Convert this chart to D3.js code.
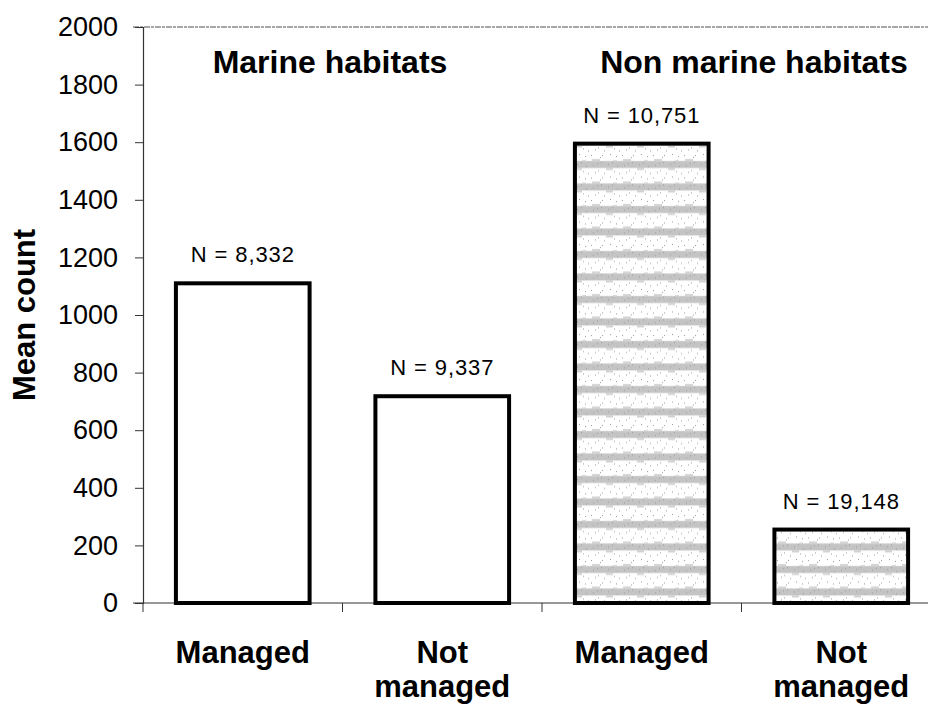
<!DOCTYPE html>
<html>
<head>
<meta charset="utf-8">
<script src="https://cdn.jsdelivr.net/npm/d3@7"></script>
<style>
  body { margin: 0; background: #fff; }
  text { font-family: "Liberation Sans", Arial, sans-serif; fill: #000; }
</style>
</head>
<body>
<div class="graph"><svg></svg></div>
<script>
// data
const categories = ['mm', 'mn', 'nm', 'nn']
const labelLines = [['Managed'], ['Not', 'managed'], ['Managed'], ['Not', 'managed']]
const meanCounts = [1110, 718, 1595, 255]
const sampleSizes = ['N = 8,332', 'N = 9,337', 'N = 10,751', 'N = 19,148']
const marine = [true, true, false, false]
const groupTitles = ['Marine habitats', 'Non marine habitats']
const yTicks = [0, 200, 400, 600, 800, 1000, 1200, 1400, 1600, 1800, 2000]

const width = 928
const height = 705
const plot = { left: 143, right: 941, top: 27, bottom: 603 }

const svg = d3.select('.graph').select('svg')
  .attr('width', width)
  .attr('height', height)

// stippled horizontal band texture for the non marine bars
const defs = svg.append('defs')
const pat = defs.append('pattern')
  .attr('id', 'bands')
  .attr('patternUnits', 'userSpaceOnUse')
  .attr('width', 31)
  .attr('height', 22.5)
  .attr('y', 153)
pat.append('rect').attr('width', 31).attr('height', 22.5).attr('fill', '#fff')
pat.append('rect').attr('y', 8).attr('width', 31).attr('height', 7).attr('fill', '#c4c4c4')
pat.append('rect').attr('x', 3).attr('y', 6).attr('width', 8).attr('height', 2).attr('fill', '#d4d4d4')
pat.append('rect').attr('x', 17).attr('y', 15).attr('width', 7).attr('height', 2).attr('fill', '#d0d0d0')
pat.append('rect').attr('x', 24).attr('y', 7).attr('width', 4).attr('height', 1).attr('fill', '#d8d8d8')
const dots = [[2, 2], [11, 4], [21, 1], [27, 3], [6, 19], [15, 20], [25, 18], [8, 10], [19, 11], [28, 13],
  [13, 2], [4, 12], [12, 9], [23, 9], [9, 17], [30, 20]]
pat.selectAll('.dot').data(dots).enter().append('rect')
  .attr('class', 'dot')
  .attr('x', d => d[0]).attr('y', d => d[1])
  .attr('width', 1).attr('height', 1)
  .attr('fill', '#9a9a9a')

const x = d3.scaleBand()
  .domain(categories)
  .range([plot.left, plot.right])
  .paddingInner(0.33)
  .paddingOuter(0.165)

const y = d3.scaleLinear()
  .domain([0, 2000])
  .range([plot.bottom, plot.top])

// top frame line
svg.append('line')
  .attr('x1', plot.left - 10).attr('x2', width)
  .attr('y1', y(2000)).attr('y2', y(2000))
  .attr('stroke', '#8a8a8a')
  .attr('stroke-width', 1.5)
  .attr('stroke-dasharray', '6,1,3,1')

// y axis
const yAxis = svg.append('g')
  .attr('class', 'y axis')
  .attr('transform', 'translate(' + plot.left + ',0)')
  .call(d3.axisLeft(y).tickValues(yTicks).tickFormat(d3.format('d')).tickSize(8).tickPadding(17))
yAxis.select('.domain').attr('stroke', '#333').attr('stroke-width', 1.2)
yAxis.selectAll('.tick line').attr('stroke', '#333')
yAxis.selectAll('.tick text')
  .attr('font-size', 27)
  .attr('font-family', '"Liberation Sans", Arial, sans-serif')
  .attr('fill', '#000')

// x axis with ticks between categories
const xAxis = svg.append('g')
  .attr('class', 'x axis')
  .attr('transform', 'translate(0,' + plot.bottom + ')')
xAxis.append('line')
  .attr('x1', plot.left - 10).attr('x2', width)
  .attr('stroke', '#333').attr('stroke-width', 1.2)
xAxis.selectAll('.sep')
  .data(categories)
  .enter().append('line')
  .attr('class', 'sep')
  .attr('x1', d => x(d) - x.step() * x.paddingOuter())
  .attr('x2', d => x(d) - x.step() * x.paddingOuter())
  .attr('y1', 0).attr('y2', 9)
  .attr('stroke', '#333')

// bars
svg.selectAll('.bar')
  .data(categories)
  .enter().append('rect')
  .attr('class', 'bar')
  .attr('x', d => x(d))
  .attr('width', x.bandwidth())
  .attr('y', (d, i) => y(meanCounts[i]))
  .attr('height', (d, i) => y(0) - y(meanCounts[i]))
  .attr('fill', (d, i) => marine[i] ? '#fff' : 'url(#bands)')
  .attr('stroke', '#000')
  .attr('stroke-width', 4)

// sample size labels
svg.selectAll('.n-label')
  .data(categories)
  .enter().append('text')
  .attr('class', 'n-label')
  .attr('x', d => x(d) + x.bandwidth() / 2)
  .attr('y', (d, i) => y(meanCounts[i]) - 21)
  .attr('text-anchor', 'middle')
  .attr('font-size', 22)
  .attr('letter-spacing', 0.9)
  .text((d, i) => sampleSizes[i])

// category labels
const catLabels = svg.selectAll('.cat-label')
  .data(categories)
  .enter().append('text')
  .attr('class', 'cat-label')
  .attr('text-anchor', 'middle')
  .attr('font-size', 31)
  .attr('font-weight', 'bold')
catLabels.each(function (d, i) {
  d3.select(this).selectAll('tspan')
    .data(labelLines[i])
    .enter().append('tspan')
    .attr('x', x(d) + x.bandwidth() / 2)
    .attr('y', (t, j) => 663 + j * 34)
    .text(t => t)
})

// group titles
svg.selectAll('.title')
  .data(groupTitles)
  .enter().append('text')
  .attr('class', 'title')
  .attr('x', (d, i) => i === 0 ? 330 : 754)
  .attr('y', 73)
  .attr('text-anchor', 'middle')
  .attr('font-size', 32)
  .attr('font-weight', 'bold')
  .text(d => d)

// y axis title
svg.append('text')
  .attr('class', 'y axis-text')
  .attr('transform', 'translate(35,315) rotate(-90)')
  .attr('text-anchor', 'middle')
  .attr('font-size', 31)
  .attr('font-weight', 'bold')
  .text('Mean count')
</script>
</body>
</html>
